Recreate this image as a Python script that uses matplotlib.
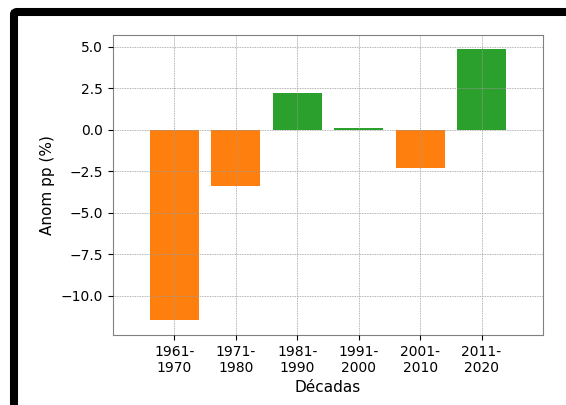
import matplotlib
matplotlib.use('Agg')
import matplotlib.pyplot as plt
from matplotlib.patches import FancyBboxPatch

decadas = ['1961-\n1970', '1971-\n1980', '1981-\n1990', '1991-\n2000', '2001-\n2010', '2011-\n2020']
anom = [-11.45, -3.35, 2.23, 0.12, -2.3, 4.88]
cores = ['#ff7f0e' if v < 0 else '#2ca02c' for v in anom]

fig = plt.figure(figsize=(5.66, 4.05), dpi=100)
ax = fig.add_axes([0.1996, 0.1728, 0.7597, 0.7408])

x = range(len(decadas))
ax.bar(x, anom, width=0.8, color=cores)
ax.set_xticks(list(x))
ax.set_xticklabels(decadas, fontsize=10)
ax.tick_params(axis='y', labelsize=10)
ax.set_xlim(-1, 6)
ax.set_ylim(-12.35, 5.72)
ax.set_yticks([5.0, 2.5, 0.0, -2.5, -5.0, -7.5, -10.0])
ax.grid(True, linestyle=(0, (1, 1)), color='#9a9a9a', linewidth=0.6)
ax.set_axisbelow(False)
for s in ax.spines.values():
    s.set_color('gray')
ax.set_xlabel('Décadas', fontsize=11)
ax.set_ylabel('Anom pp (%)', fontsize=11)

# moldura preta do print
moldura = FancyBboxPatch((14 / 566, -0.2), 1.2, 1.2 - 12 / 405,
                         boxstyle='round,pad=0,rounding_size=0.006',
                         transform=fig.transFigure, facecolor='none',
                         edgecolor='black', linewidth=5.8, clip_on=False)
fig.patches.append(moldura)

fig.savefig('out.png', dpi=100)
